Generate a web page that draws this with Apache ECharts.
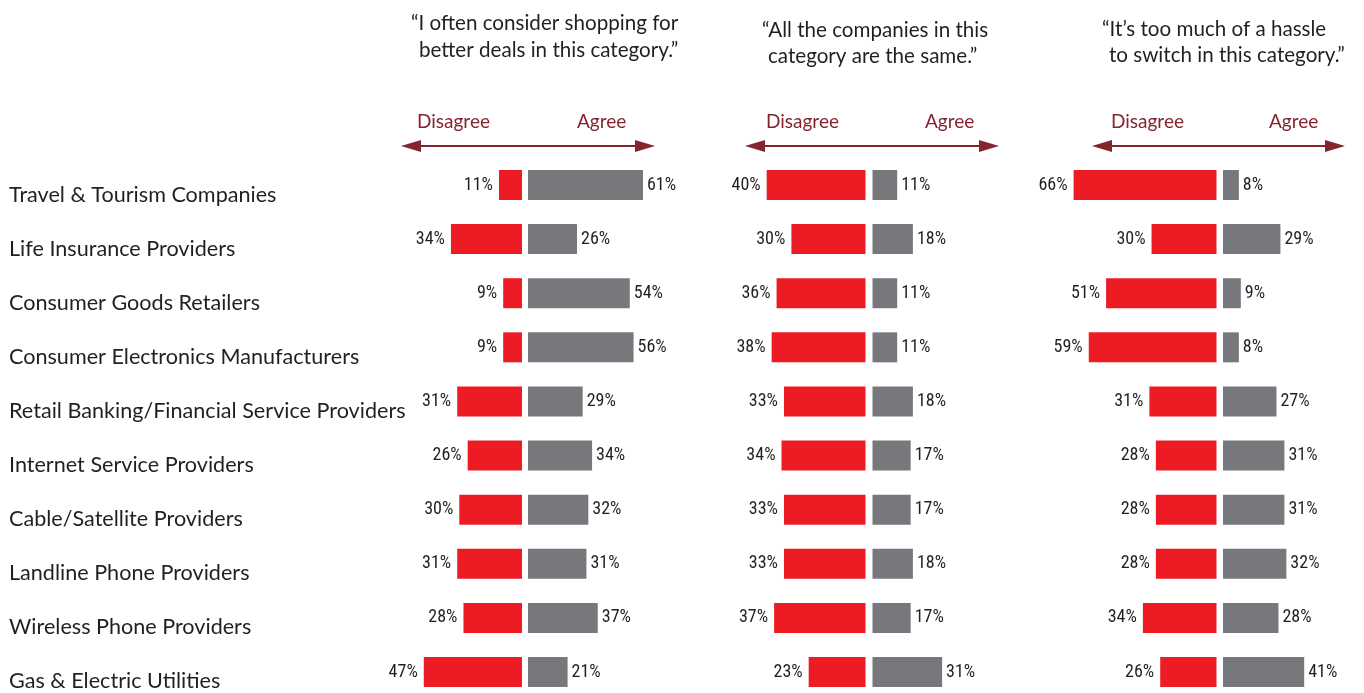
<!DOCTYPE html>
<html>
<head>
<meta charset="utf-8">
<title>Consumer attitudes by category</title>
<script src="https://cdn.jsdelivr.net/npm/echarts@6/dist/echarts.min.js"></script>
<style>
  html, body { margin: 0; padding: 0; background: #ffffff; }
  #chart { width: 1364px; height: 693px; }
</style>
</head>
<body>
<div id="chart"></div>
<script>
// Categories, top to bottom
const categories = [
  'Travel & Tourism Companies',
  'Life Insurance Providers',
  'Consumer Goods Retailers',
  'Consumer Electronics Manufacturers',
  'Retail Banking/Financial Service Providers',
  'Internet Service Providers',
  'Cable/Satellite Providers',
  'Landline Phone Providers',
  'Wireless Phone Providers',
  'Gas & Electric Utilities'
];

// "I often consider shopping for better deals in this category."
const shopDisagree = [11, 34, 9, 9, 31, 26, 30, 31, 28, 47];
const shopAgree    = [61, 26, 54, 56, 29, 34, 32, 31, 37, 21];

// "All the companies in this category are the same."
const sameDisagree = [40, 30, 36, 38, 33, 34, 33, 33, 37, 23];
const sameAgree    = [11, 18, 11, 11, 18, 17, 17, 18, 17, 31];

// "It's too much of a hassle to switch in this category."
const hassleDisagree = [66, 30, 51, 59, 31, 28, 28, 28, 34, 26];
const hassleAgree    = [8, 29, 9, 8, 27, 31, 31, 32, 28, 41];

const headingLines = [
  ['\u201CI often consider shopping for', 'better deals in this category.\u201D'],
  ['\u201CAll the companies in this', 'category are the same.\u201D'],
  ['\u201CIt\u2019s too much of a hassle', 'to switch in this category.\u201D']
];
const sideLabels = ['Disagree', 'Agree'];

const RED = '#ED1C24';
const GRAY = '#77787B';
const MAROON = '#84252D';
const INK = '#231F20';
const TEXT_FONT = 'Lato';
const NUM_FONT = '"Roboto Condensed", "DejaVu Sans Condensed", sans-serif';

const AX_MAX = 70;
// Categories sit on the ticks (no boundary gap): first row centre at top, last at bottom
const ROW_FIRST = 185;
const ROW_LAST = 672;

// Panel geometry: where the two bar halves meet, and pixels per percent on each side
const panels = [
  { disagree: shopDisagree,   agree: shopAgree,   redRight: 522,    redScale: 2.09,  grayLeft: 528,   grayScale: 1.885,
    head: [[411, 22], [419, 49]], dis: 417, agr: 577, arrow: [401, 655] },
  { disagree: sameDisagree,   agree: sameAgree,   redRight: 865.5,  redScale: 2.47,  grayLeft: 872.5, grayScale: 2.245,
    head: [[762, 29], [768, 55]], dis: 766, agr: 925, arrow: [745, 999] },
  { disagree: hassleDisagree, agree: hassleAgree, redRight: 1216.5, redScale: 2.165, grayLeft: 1223,  grayScale: 1.98,
    head: [[1102, 28], [1109, 54]], dis: 1111, agr: 1269, arrow: [1092, 1345] }
];

const grid = [], xAxis = [], yAxis = [], series = [], graphic = [];

// Row names sit in their own narrow grid, slightly below the bar centres
grid.push({ left: 9, top: ROW_FIRST + 10, width: 1, height: ROW_LAST - ROW_FIRST - 1 });
xAxis.push({ gridIndex: 0, type: 'value', min: 0, max: 1, show: false });
yAxis.push({
  gridIndex: 0, type: 'category', data: categories, inverse: true, boundaryGap: false,
  axisLine: { show: false }, axisTick: { show: false }, splitLine: { show: false },
  axisLabel: { align: 'left', margin: 0, color: INK, fontFamily: TEXT_FONT, fontSize: 21.6, interval: 0 }
});

panels.forEach((p, i) => {
  const redW = AX_MAX * p.redScale;
  const grayW = AX_MAX * p.grayScale;
  grid.push({ left: p.redRight - redW, top: ROW_FIRST, width: redW, height: ROW_LAST - ROW_FIRST });
  grid.push({ left: p.grayLeft, top: ROW_FIRST, width: grayW, height: ROW_LAST - ROW_FIRST });

  [0, 1].forEach(side => {
    const gi = 1 + i * 2 + side;
    xAxis.push({ gridIndex: gi, type: 'value', min: 0, max: AX_MAX, inverse: side === 0, show: false });
    yAxis.push({ gridIndex: gi, type: 'category', data: categories, inverse: true, boundaryGap: false, show: false });
    series.push({
      type: 'bar', xAxisIndex: gi, yAxisIndex: gi,
      data: side === 0 ? p.disagree : p.agree,
      barWidth: 30,
      clip: false,
      itemStyle: { color: side === 0 ? RED : GRAY },
      silent: true,
      label: {
        show: true, position: side === 0 ? 'left' : 'right', distance: side === 0 ? 6 : 4,
        formatter: '{c}%', color: INK, fontFamily: NUM_FONT, fontSize: 18
      }
    });
  });

  // heading lines
  p.head.forEach((pos, li) => {
    graphic.push({
      type: 'text', x: pos[0], y: pos[1] + 1, silent: true,
      style: { text: headingLines[i][li], fill: INK, font: '20.6px ' + TEXT_FONT, verticalAlign: 'middle' }
    });
  });
  // Disagree / Agree
  graphic.push({ type: 'text', x: p.dis, y: 122, silent: true,
    style: { text: sideLabels[0], fill: MAROON, font: '19px ' + TEXT_FONT, verticalAlign: 'middle' } });
  graphic.push({ type: 'text', x: p.agr, y: 122, silent: true,
    style: { text: sideLabels[1], fill: MAROON, font: '19px ' + TEXT_FONT, verticalAlign: 'middle' } });
  // double-headed arrow
  const a0 = p.arrow[0], a1 = p.arrow[1], ay = 146;
  graphic.push({ type: 'line', silent: true,
    shape: { x1: a0 + 10, y1: ay, x2: a1 - 10, y2: ay }, style: { stroke: MAROON, lineWidth: 2 } });
  graphic.push({ type: 'polygon', silent: true,
    shape: { points: [[a0, ay], [a0 + 20, ay - 6], [a0 + 20, ay + 6]] }, style: { fill: MAROON } });
  graphic.push({ type: 'polygon', silent: true,
    shape: { points: [[a1, ay], [a1 - 20, ay - 6], [a1 - 20, ay + 6]] }, style: { fill: MAROON } });
});

const chart = echarts.init(document.getElementById('chart'), null, { renderer: 'canvas' });
chart.setOption({
  backgroundColor: '#ffffff',
  animation: false,
  grid, xAxis, yAxis, series, graphic
});
</script>
</body>
</html>
